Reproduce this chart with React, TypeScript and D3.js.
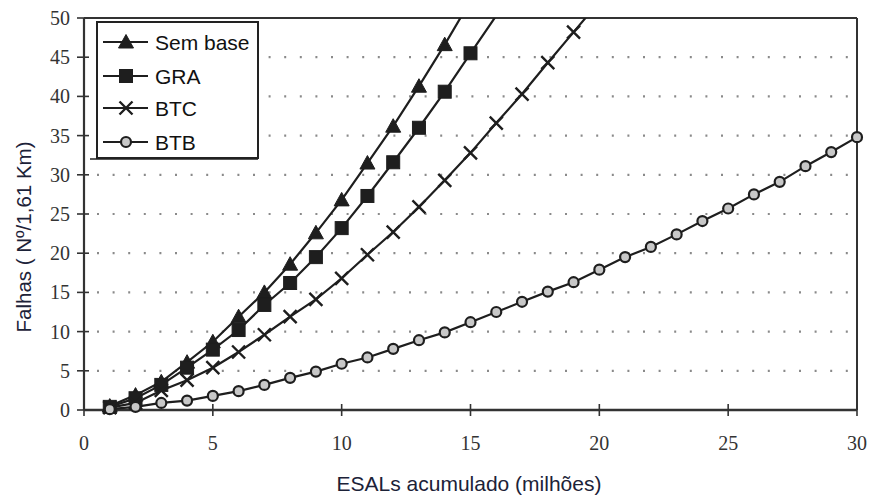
import React from "react";
import * as d3 from "d3";

const xTicks = [0, 5, 10, 15, 20, 25, 30];
const yTicks = [0, 5, 10, 15, 20, 25, 30, 35, 40, 45, 50];
const gridTicks = [5, 10, 15, 20, 25, 30, 35, 40, 45];

const semBase = [0.5, 1.9, 3.6, 6.1, 8.7, 11.9, 15.0, 18.6, 22.6, 26.8, 31.5, 36.2, 41.3, 46.6, 52.2];
const gra = [0.4, 1.5, 3.2, 5.4, 7.7, 10.2, 13.4, 16.2, 19.5, 23.2, 27.3, 31.6, 36.0, 40.6, 45.5, 50.3];
const btc = [0.3, 0.9, 2.5, 3.8, 5.4, 7.4, 9.6, 11.9, 14.1, 16.8, 19.8, 22.7, 25.9, 29.3, 32.8, 36.6, 40.3, 44.3, 48.2, 52.1];
const btb = [0.1, 0.4, 0.9, 1.2, 1.8, 2.4, 3.2, 4.1, 4.9, 5.9, 6.7, 7.8, 8.9, 9.9, 11.2, 12.5, 13.8, 15.1, 16.3, 17.9, 19.5, 20.8, 22.4, 24.1, 25.7, 27.5, 29.1, 31.1, 32.9, 34.8];

const seriesNames = ["Sem base", "GRA", "BTC", "BTB"];
const seriesData = [semBase, gra, btc, btb];
const markers = ["triangle", "square", "cross", "circle"];

const W = 869;
const H = 496;
const x = d3.scaleLinear().domain([0, 30]).range([84, 857]);
const y = d3.scaleLinear().domain([0, 50]).range([410, 18]);

const INK = "#1e1e1e";
const SERIF = "'Liberation Serif', 'Times New Roman', 'DejaVu Serif', serif";
const SANS = "'Liberation Sans', Arial, sans-serif";

function Marker({ type, cx, cy }: { type: string; cx: number; cy: number }) {
  if (type === "triangle") {
    const s = 7.5;
    return <path d={`M${cx},${cy - s} L${cx + s},${cy + s * 0.8} L${cx - s},${cy + s * 0.8} Z`} fill={INK} stroke={INK} strokeWidth={1} />;
  }
  if (type === "square") {
    const s = 6.5;
    return <rect x={cx - s} y={cy - s} width={2 * s} height={2 * s} fill={INK} stroke={INK} strokeWidth={1} />;
  }
  if (type === "cross") {
    const s = 6.5;
    return (
      <path d={`M${cx - s},${cy - s} L${cx + s},${cy + s} M${cx - s},${cy + s} L${cx + s},${cy - s}`} stroke={INK} strokeWidth={2.4} fill="none" />
    );
  }
  return <circle cx={cx} cy={cy} r={5} fill="#c8c8c8" stroke={INK} strokeWidth={2.2} />;
}

export default function App() {
  const line = d3
    .line<number>()
    .x((_, i) => x(i + 1))
    .y((d) => y(d));

  const legendY = [42, 76, 108, 142];

  return (
    <svg width={W} height={H} style={{ display: "block", position: "absolute", left: 0, top: 0, background: "#fff" }}>
      <defs>
        <clipPath id="plot">
          <rect x={x(0) - 10} y={y(50)} width={x(30) - x(0) + 20} height={y(0) - y(50) + 10} />
        </clipPath>
      </defs>
      <rect x={0} y={0} width={W} height={H} fill="#fff" />

      {gridTicks.map((t) => (
        <line key={t} x1={97} x2={x(30)} y1={y(t)} y2={y(t)} stroke="#8a8a8a" strokeWidth={2.2} strokeDasharray="2 13.6" />
      ))}

      <line x1={x(0)} x2={x(30)} y1={y(50)} y2={y(50)} stroke="#333" strokeWidth={2} />
      <line x1={x(30)} x2={x(30)} y1={y(50)} y2={y(0)} stroke="#333" strokeWidth={2} />
      <line x1={x(0)} x2={x(0)} y1={y(50)} y2={y(0)} stroke="#333" strokeWidth={2.2} />
      <line x1={x(0)} x2={x(30)} y1={y(0)} y2={y(0)} stroke="#333" strokeWidth={2.4} />

      {yTicks.map((t) => (
        <g key={t}>
          <line x1={x(0) - 7} x2={x(0) + 5} y1={y(t)} y2={y(t)} stroke="#333" strokeWidth={1.6} />
          <text x={70} y={y(t)} dy="0.35em" textAnchor="end" style={{ fontFamily: SERIF }} fontSize={20} fill="#333">
            {t}
          </text>
        </g>
      ))}

      {xTicks.map((t) => (
        <g key={t}>
          <line x1={x(t)} x2={x(t)} y1={y(0) - 6} y2={y(0) + 6} stroke="#333" strokeWidth={1.6} />
          <text x={x(t)} y={450} textAnchor="middle" style={{ fontFamily: SERIF }} fontSize={20} fill="#333">
            {t}
          </text>
        </g>
      ))}

      <g clipPath="url(#plot)">
        {seriesData.map((data, si) => (
          <g key={si}>
            <path d={line(data) || ""} fill="none" stroke={INK} strokeWidth={2.2} />
            {data.map((v, i) =>
              v <= 50 ? <Marker key={i} type={markers[si]} cx={x(i + 1)} cy={y(v)} /> : null
            )}
          </g>
        ))}
      </g>

      <rect x={97} y={22} width={161} height={136} fill="#fff" stroke="#222" strokeWidth={2} />
      <line x1={90} x2={258} y1={159} y2={159} stroke="#222" strokeWidth={1.5} />
      {seriesNames.map((name, i) => (
        <g key={name}>
          <line x1={103} x2={148} y1={legendY[i]} y2={legendY[i]} stroke={INK} strokeWidth={2.2} />
          <Marker type={markers[i]} cx={126} cy={legendY[i]} />
          <text x={155} y={legendY[i]} dy="0.36em" style={{ fontFamily: SANS }} fontSize={21} fill="#111">
            {name}
          </text>
        </g>
      ))}

      <text x={469} y={491} textAnchor="middle" style={{ fontFamily: SANS }} fontSize={21} fill="#1c2238">
        ESALs acumulado (milhões)
      </text>
      <text
        transform={`translate(31,237) rotate(-90)`}
        textAnchor="middle"
        style={{ fontFamily: SANS }}
        fontSize={20.5}
        fill="#1c2238"
      >
        Falhas ( Nº/1,61 Km)
      </text>
    </svg>
  );
}
